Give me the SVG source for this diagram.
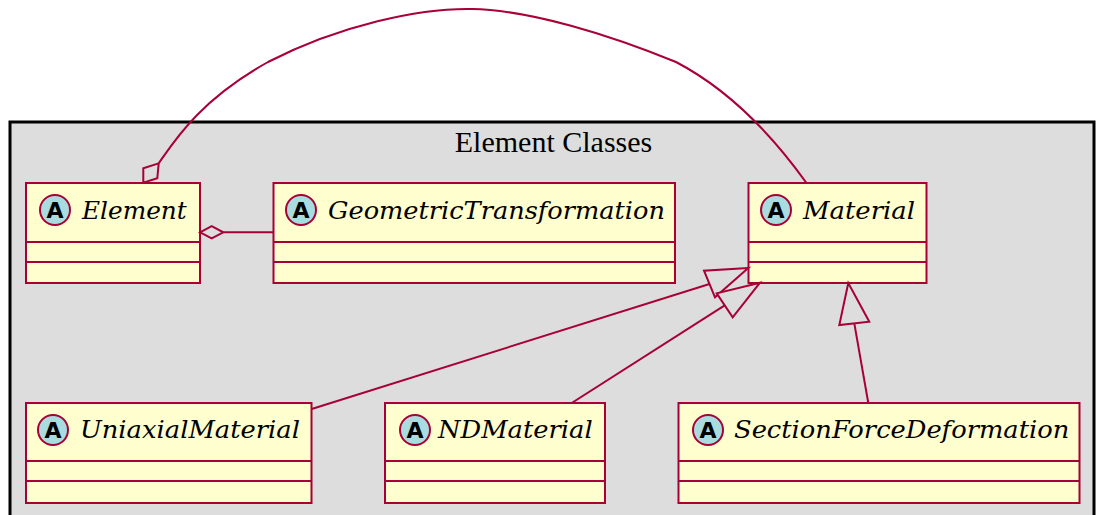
<svg xmlns="http://www.w3.org/2000/svg" width="1096" height="515" viewBox="0 0 1096 515">
  <style>
    .pkg { fill: #DDDDDD; stroke: #000000; stroke-width: 3; }
    .pkg-title { font-family: "Liberation Serif", "Times New Roman", serif; font-size: 30px; fill: #000000; }
    .box { fill: #FEFECE; stroke: #A80036; stroke-width: 2; }
    .sep { stroke: #A80036; stroke-width: 2; }
    .icon-a { fill: #A9DCDF; stroke: #A80036; stroke-width: 2; }
    .icon-letter { font-family: "DejaVu Sans", sans-serif; font-weight: bold; font-size: 22px; fill: #000000; text-anchor: middle; }
    .name { font-family: "DejaVu Serif", serif; font-style: italic; font-size: 25px; fill: #000000; }
    .edge { fill: none; stroke: #A80036; stroke-width: 2; }
    .head-open { fill: #DDDDDD; stroke: #A80036; stroke-width: 2; }
  </style>

  <!-- package frame -->
  <g id="pkg-element-classes">
    <rect class="pkg" x="10" y="122" width="1084" height="420"/>
    <text class="pkg-title" x="553.5" y="152" text-anchor="middle">Element Classes</text>
  </g>

  <!-- classes -->
  <g id="cls-element">
    <rect class="box" x="26" y="183" width="174" height="100"/>
    <line class="sep" x1="26" y1="242" x2="200" y2="242"/>
    <line class="sep" x1="26" y1="262" x2="200" y2="262"/>
    <circle class="icon-a" cx="55" cy="210" r="15"/>
    <text class="icon-letter" x="55" y="218">A</text>
    <text class="name" x="82" y="219" textLength="104.7" lengthAdjust="spacingAndGlyphs">Element</text>
  </g>

  <g id="cls-geometric-transformation">
    <rect class="box" x="273.5" y="183" width="401.5" height="100"/>
    <line class="sep" x1="273.5" y1="242" x2="675" y2="242"/>
    <line class="sep" x1="273.5" y1="262" x2="675" y2="262"/>
    <circle class="icon-a" cx="301" cy="210" r="15"/>
    <text class="icon-letter" x="301" y="218">A</text>
    <text class="name" x="328" y="219" textLength="337" lengthAdjust="spacingAndGlyphs">GeometricTransformation</text>
  </g>

  <g id="cls-material">
    <rect class="box" x="748.5" y="183" width="178" height="100"/>
    <line class="sep" x1="748.5" y1="242" x2="926.5" y2="242"/>
    <line class="sep" x1="748.5" y1="262" x2="926.5" y2="262"/>
    <circle class="icon-a" cx="776" cy="210" r="15"/>
    <text class="icon-letter" x="776" y="218">A</text>
    <text class="name" x="803" y="219" textLength="112" lengthAdjust="spacingAndGlyphs">Material</text>
  </g>

  <g id="cls-uniaxial-material">
    <rect class="box" x="26" y="403" width="285.5" height="100"/>
    <line class="sep" x1="26" y1="461" x2="311.5" y2="461"/>
    <line class="sep" x1="26" y1="481" x2="311.5" y2="481"/>
    <circle class="icon-a" cx="53" cy="430" r="15"/>
    <text class="icon-letter" x="53" y="438">A</text>
    <text class="name" x="80" y="438" textLength="220" lengthAdjust="spacingAndGlyphs">UniaxialMaterial</text>
  </g>

  <g id="cls-nd-material">
    <rect class="box" x="385" y="403" width="220" height="100"/>
    <line class="sep" x1="385" y1="461" x2="605" y2="461"/>
    <line class="sep" x1="385" y1="481" x2="605" y2="481"/>
    <circle class="icon-a" cx="415" cy="430" r="15"/>
    <text class="icon-letter" x="415" y="438">A</text>
    <text class="name" x="438" y="438" textLength="154.7" lengthAdjust="spacingAndGlyphs">NDMaterial</text>
  </g>

  <g id="cls-section-force-deformation">
    <rect class="box" x="678.5" y="403" width="401" height="100"/>
    <line class="sep" x1="678.5" y1="461" x2="1079.5" y2="461"/>
    <line class="sep" x1="678.5" y1="481" x2="1079.5" y2="481"/>
    <circle class="icon-a" cx="708" cy="430" r="15"/>
    <text class="icon-letter" x="708" y="438">A</text>
    <text class="name" x="734" y="438" textLength="335.3" lengthAdjust="spacingAndGlyphs">SectionForceDeformation</text>
  </g>

  <!-- connectors -->
  <g id="connectors">
    <!-- aggregation: Element to Material, arcing over the package -->
    <path class="edge" d="M158.7,163.3 C175,140 200,100 268,62 C340,25 420,8 472,9 C530,10 610,35 676,62 C720,85 765,125 806.5,183"/>
    <polygon class="head-open" points="143.3,182.7 143.3,168.3 158.7,163.3 157.3,178.3"/>

    <!-- aggregation: Element to GeometricTransformation -->
    <line class="edge" x1="223.3" y1="232.3" x2="273.5" y2="232.3"/>
    <polygon class="head-open" points="200,232.3 211.7,226.2 223.3,232.3 211.7,238.4"/>

    <!-- generalization: UniaxialMaterial to Material -->
    <line class="edge" x1="311.7" y1="409" x2="709.5" y2="284"/>
    <polygon class="head-open" points="748.3,268 704,270.7 715,297.3"/>

    <!-- generalization: NDMaterial to Material -->
    <line class="edge" x1="571.7" y1="403" x2="724.7" y2="305.3"/>
    <polygon class="head-open" points="760,282.7 716.7,293.3 732.7,317.3"/>

    <!-- generalization: SectionForceDeformation to Material -->
    <line class="edge" x1="868.3" y1="403" x2="854.3" y2="323.3"/>
    <polygon class="head-open" points="848.3,283 839.3,325 869.3,321.7"/>
  </g>
</svg>
